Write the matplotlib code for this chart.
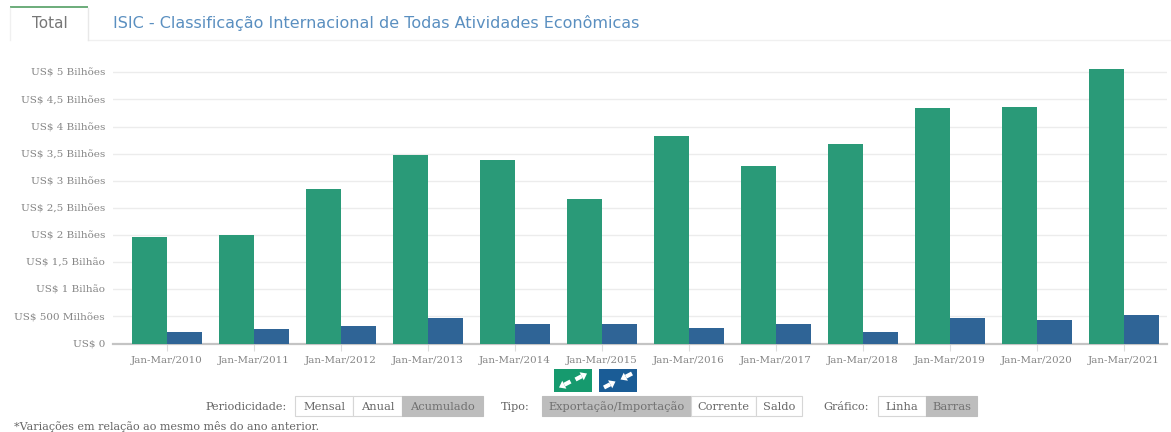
import matplotlib
matplotlib.use("Agg")
import matplotlib.pyplot as plt
from matplotlib.patches import Rectangle, Polygon
import numpy as np

W, H = 1171, 432
categories = [f"Jan-Mar/{y}" for y in range(2010, 2022)]
exports_bi = [1.96, 2.00, 2.84, 3.47, 3.38, 2.66, 3.82, 3.28, 3.67, 4.34, 4.36, 5.07]
imports_bi = [0.215, 0.264, 0.326, 0.479, 0.356, 0.356, 0.282, 0.356, 0.221, 0.466, 0.43, 0.534]
y_ticks = [0, 0.5, 1, 1.5, 2, 2.5, 3, 3.5, 4, 4.5, 5]
y_labels = ["US$ 0", "US$ 500 Milhões", "US$ 1 Bilhão", "US$ 1,5 Bilhão", "US$ 2 Bilhões",
            "US$ 2,5 Bilhões", "US$ 3 Bilhões", "US$ 3,5 Bilhões", "US$ 4 Bilhões",
            "US$ 4,5 Bilhões", "US$ 5 Bilhões"]
GREEN, BLUE = "#2a9a78", "#2f6496"
TXT = "#858585"

fig = plt.figure(figsize=(W / 100, H / 100), dpi=100, facecolor="white")
L, R, B0, T0 = 113, 1167, 343.5, 61.5
ax = fig.add_axes([L / W, 1 - B0 / H, (R - L) / W, (B0 - T0) / H])
x = np.arange(len(categories))
bw = 0.405
ax.bar(x - bw / 2, exports_bi, bw, color=GREEN, zorder=3)
ax.bar(x + bw / 2, imports_bi, bw, color=BLUE, zorder=3)
ax.set_xlim((L - 167) / 87, (R - 167) / 87)
ax.set_ylim(0, 5.2)
ax.set_yticks(y_ticks, y_labels, family="DejaVu Serif", fontsize=7.5, color=TXT)
ax.set_xticks(x, categories, family="DejaVu Serif", fontsize=7.4, color=TXT)
ax.tick_params(axis="y", length=0, pad=5.8)
ax.tick_params(axis="x", length=5, width=0.8, color="#dddddd", pad=4)
ax.grid(axis="y", color="#ececec", lw=1, zorder=0)
for s in ["top", "left", "right"]:
    ax.spines[s].set_visible(False)
ax.spines["bottom"].set_color("#c4c4c4")
ax.spines["bottom"].set_linewidth(1.6)
ax.spines["bottom"].set_zorder(2)

ov = fig.add_axes([0, 0, 1, 1], facecolor="none")
ov.set_xlim(0, W)
ov.set_ylim(H, 0)
ov.axis("off")

# tabs
ov.plot([88, W], [39.5, 39.5], color="#f0f0f0", lw=1)
ov.plot([10, 10], [8, 40], color="#f0f0f0", lw=1)
ov.plot([88, 88], [8, 40], color="#e8e8e8", lw=1)
ov.add_patch(Rectangle((10, 6), 78, 2.4, color="#6fae7d", lw=0))
ov.text(50, 24, "Total", ha="center", va="center", family="DejaVu Sans", fontsize=11, color="#777777")
ov.text(113, 23, "ISIC - Classificação Internacional de Todas Atividades Econômicas",
        ha="left", va="center", family="DejaVu Sans", fontsize=11.55, color="#5a8fc0")

# icon buttons: each arrow is a shaft and a triangular head, in pixel offsets from the icon centre
def arrow(cx, cy, tip, tail):
    tip, tail = np.array(tip, float), np.array(tail, float)
    d = (tip - tail) / np.linalg.norm(tip - tail)
    n = np.array([-d[1], d[0]])
    base = tip - d * 6
    ov.plot([cx + tail[0], cx + base[0]], [cy + tail[1], cy + base[1]], color="white", lw=3, solid_capstyle="butt")
    pts = [tip, base + n * 4.5, base - n * 4.5]
    ov.add_patch(Polygon([(cx + p[0], cy + p[1]) for p in pts], color="white", lw=0))

for (x0, col, inward) in [(554, "#169a6e", False), (599, "#1a5c96", True)]:
    ov.add_patch(Rectangle((x0, 369), 38, 23, color=col, lw=0))
    cx, cy = x0 + 19, 380.5
    for sx in (-1, 1):
        far = (sx * 14, -sx * 7)
        near = (sx * 2.5, -sx * 1)
        if inward:
            arrow(cx, cy, near, far)
        else:
            arrow(cx, cy, far, near)

# button groups
buttons = [("Mensal", 295, 353, False), ("Anual", 353, 402, False), ("Acumulado", 402, 483, True),
           ("Exportação/Importação", 542, 691, True), ("Corrente", 691, 756, False), ("Saldo", 756, 802, False),
           ("Linha", 878, 926, False), ("Barras", 926, 977, True)]
for label, a, b, active in buttons:
    ov.add_patch(Rectangle((a, 396), b - a, 20, facecolor="#bdbdbd" if active else "white",
                           edgecolor="#bdbdbd" if active else "#d6d6d6", lw=0.8))
    ov.text((a + b) / 2, 406.5, label, ha="center", va="center", family="DejaVu Serif",
            fontsize=8.2, color="#707070" if active else "#666666")
for label, xr in [("Periodicidade:", 287), ("Tipo:", 530), ("Gráfico:", 869)]:
    ov.text(xr, 406.5, label, ha="right", va="center", family="DejaVu Serif", fontsize=8.1, color="#666666")
ov.text(14, 426, "*Variações em relação ao mesmo mês do ano anterior.", ha="left", va="center",
        family="DejaVu Serif", fontsize=8.0, color="#666666")

fig.savefig("out.png", dpi=100, facecolor="white")
